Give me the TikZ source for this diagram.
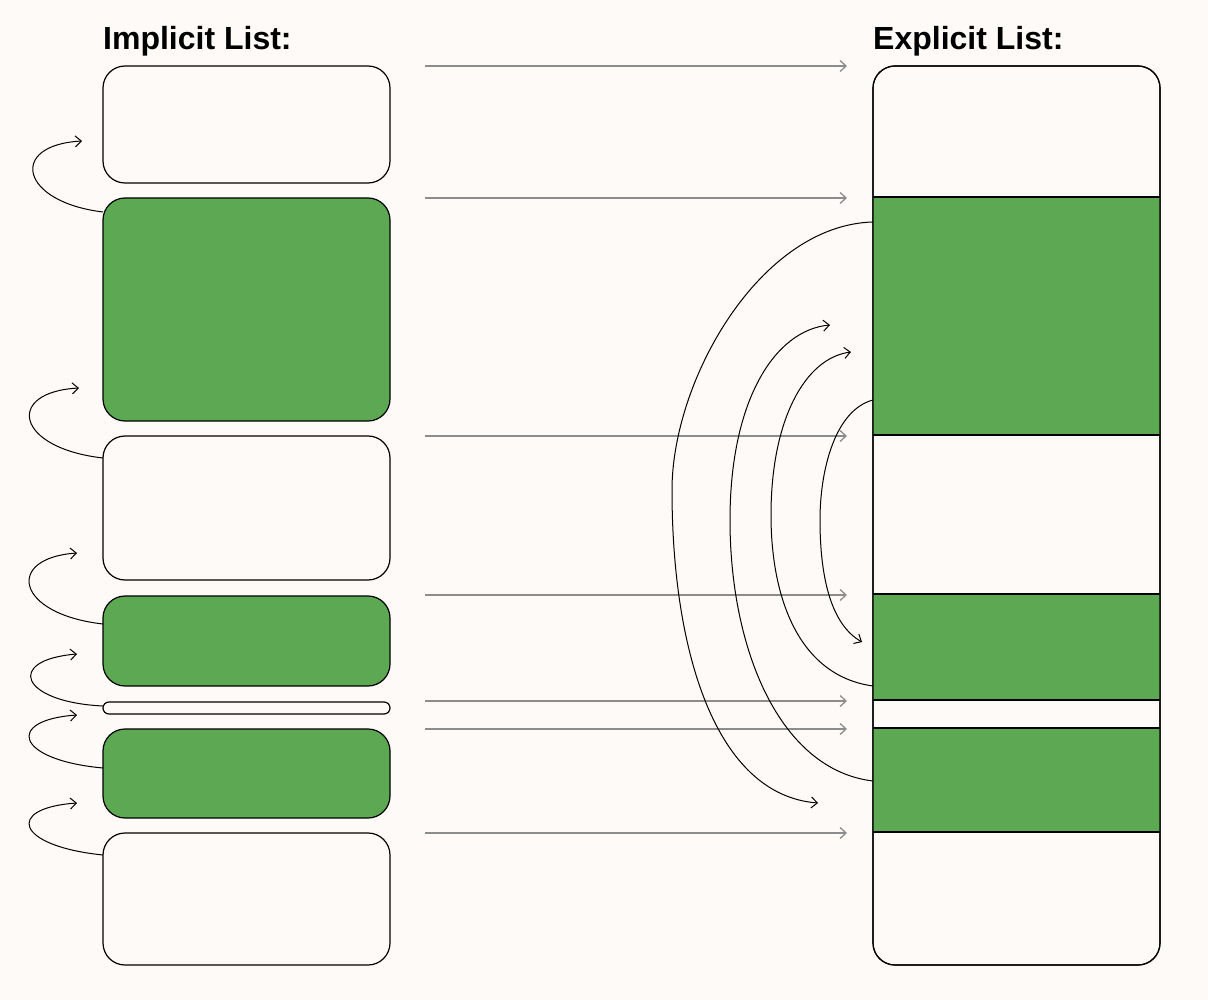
\documentclass[tikz,border=0pt]{standalone}
\usepackage{fontspec}
\setmainfont{Liberation Sans}
\usetikzlibrary{arrows,calc,arrows.meta}
\usetikzlibrary{positioning}

\begin{document}
\begin{tikzpicture}[x=1pt,y=-1pt,
		block/.style={draw,line width=1.2pt,rounded corners=22pt,minimum width=287pt,inner sep=0pt,outer sep=0pt},
		ptr/.style={-{Straight Barb[length=6pt,width=11pt]},line width=1pt},
		gptr/.style={-{Straight Barb[length=6pt,width=11pt]},line width=1.3pt,draw=arrowgray}]

		    \definecolor{back}{HTML}{FDFAF7}
		    \definecolor{freegreen}{HTML}{5DA853}
		    \definecolor{arrowgray}{HTML}{8C8C8C}
		    \fill[back] (0,0) rectangle (1208,1000);
		    \useasboundingbox (0,0) rectangle (1208,1000);

		    \node(implicit) [anchor=base west,inner sep=0pt,font=\fontsize{32}{38}\selectfont\bfseries] at (103,50) {Implicit List:};
		    \node(explicit) [anchor=base west,inner sep=0pt,font=\fontsize{32}{38}\selectfont\bfseries] at (873,50) {Explicit List:};

		    % implicit list blocks
		    \node(block1) [block,fill=back,minimum height=117pt,anchor=north west] at (103,66) {};
		    \node(block2) [block,fill=freegreen,minimum height=223pt,below=15pt of block1] {};
		    \node(block3) [block,fill=back,minimum height=144pt,below=15pt of block2] {};
		    \node(block4) [block,fill=freegreen,minimum height=90pt,below=16pt of block3] {};
		    \node(block5) [block,fill=back,minimum height=12pt,rounded corners=6pt,below=16pt of block4] {};
		    \node(block6) [block,fill=freegreen,minimum height=89pt,below=15pt of block5] {};
		    \node(block7) [block,fill=back,minimum height=132pt,below=15pt of block6] {};

		    % explicit list
		    \node(list) [block,fill=back,minimum height=899pt,anchor=north west] at (873,66) {};
		    \fill[freegreen] (873,197) rectangle (1160,435);
		    \fill[freegreen] (873,594) rectangle (1160,700);
		    \fill[freegreen] (873,728) rectangle (1160,832);
		    \foreach \y in {197,435,594,700,728,832}
		        \draw[line width=1.2pt] (list.west |- 0,\y) -- (list.east |- 0,\y);
		    \node[block,minimum height=899pt,anchor=north west] at (873,66) {};

		    % block addresses
		    \foreach \y [count=\i] in {66,198,436,595,701,729,833} {
		        \coordinate (from\i) at (425,\y);
		        \coordinate (to\i) at (847,\y);
		        \draw[gptr] (from\i) -- (to\i);
		    }

		    % implicit next pointers
		    \coordinate (head1) at (82,141);
		    \coordinate (head2) at (79,388);
		    \coordinate (head3) at (77,553);
		    \coordinate (head4) at (77,654);
		    \coordinate (head5) at (77,715);
		    \coordinate (head6) at (77,803);
		    \draw[ptr] (block2.west |- 0,212) .. controls (20,202) and (8,145) .. (head1);
		    \draw[ptr] (block3.west |- 0,458) .. controls (15,448) and (5,392) .. (head2);
		    \draw[ptr] (block4.west |- 0,624) .. controls (15,614) and (5,558) .. (head3);
		    \draw[ptr] (block5.west |- 0,706) .. controls (20,702) and (5,660) .. (head4);
		    \draw[ptr] (block6.west |- 0,768) .. controls (15,760) and (5,720) .. (head5);
		    \draw[ptr] (block7.west |- 0,855) .. controls (15,846) and (5,808) .. (head6);

		    % explicit free list pointers
		    \coordinate (next1) at (818,803);
		    \coordinate (next2) at (862,642);
		    \coordinate (next3) at (851,352);
		    \coordinate (next4) at (830,325);
		    \draw[ptr] (list.west |- 0,222) .. controls (760,225) and (672,380) .. (672,490) .. controls (672,650) and (715,795) .. (next1);
		    \draw[ptr] (list.west |- 0,400) .. controls (835,410) and (820,470) .. (820,520) .. controls (820,580) and (832,625) .. (next2);
		    \draw[ptr] (list.west |- 0,686) .. controls (800,676) and (771,600) .. (771,515) .. controls (771,420) and (805,358) .. (next3);
		    \draw[ptr] (list.west |- 0,781) .. controls (780,770) and (730,650) .. (730,520) .. controls (730,400) and (775,330) .. (next4);

\end{tikzpicture}
\end{document}
